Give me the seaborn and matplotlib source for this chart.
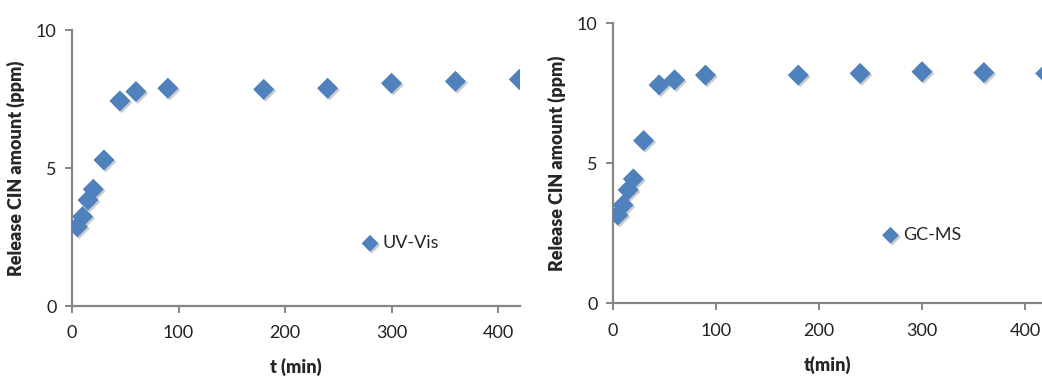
import numpy as np
import pandas as pd
import matplotlib.pyplot as plt
import matplotlib.patheffects as pe
import seaborn as sns

# ---- data ----
t_min = [5, 10, 15, 20, 30, 45, 60, 90, 180, 240, 300, 360, 420]
uv_vis = [2.87, 3.24, 3.84, 4.23, 5.29, 7.43, 7.77, 7.89, 7.85, 7.89, 8.07, 8.14, 8.21]
gc_ms = [3.15, 3.51, 4.05, 4.44, 5.81, 7.80, 7.98, 8.15, 8.15, 8.21, 8.27, 8.24, 8.21]

df_uv = pd.DataFrame({'t': t_min, 'ppm': uv_vis})
df_gc = pd.DataFrame({'t': t_min, 'ppm': gc_ms})

sns.set_style('white')
plt.rcParams['font.family'] = ['Lato', 'DejaVu Sans']

blue = '#4F81BD'
grey = '#868686'

fig = plt.figure(figsize=(10.42, 3.77), dpi=100, facecolor='white')
ax1 = fig.add_axes([0.0691, 0.1883, 0.4299, 0.7321])
ax2 = fig.add_axes([0.588, 0.1955, 0.412, 0.7427])

panels = [
    (ax1, df_uv, 'UV-Vis', 't (min)', 420.6, (0.625, 0.228)),
    (ax2, df_gc, 'GC-MS', 't(min)', 416.4, (0.605, 0.244)),
]

for ax, df, name, xlab, xmax, leg_pos in panels:
    sns.scatterplot(data=df, x='t', y='ppm', marker='D', s=115, color=blue,
                    edgecolor='none', label=name, ax=ax, clip_on=True, zorder=3)
    ax.collections[0].set_path_effects([
        pe.SimplePatchShadow(offset=(1.3, -1.3), shadow_rgbFace='#9a9a9a', alpha=0.5),
        pe.Normal()])

    ax.set_xlim(0, xmax)
    ax.set_ylim(0, 10)
    ax.set_xticks([0, 100, 200, 300, 400])
    ax.set_yticks([0, 5, 10])

    for side in ['top', 'right']:
        ax.spines[side].set_visible(False)
    for side in ['left', 'bottom']:
        ax.spines[side].set_color(grey)
        ax.spines[side].set_linewidth(1.6)
    ax.tick_params(axis='both', which='major', direction='out', length=5, width=1.4,
                   color=grey, labelsize=13, labelcolor='#222222', pad=6,
                   left=True, bottom=True)
    ax.tick_params(axis='x', pad=9)

    ax.set_xlabel(xlab, fontsize=13, fontweight='heavy', labelpad=12)
    ax.set_ylabel('Release CIN amount (ppm)', fontsize=13, fontweight='heavy', labelpad=8)

    leg = ax.legend(loc='center left', bbox_to_anchor=leg_pos, frameon=False,
                    fontsize=13, handletextpad=0.1, markerscale=0.8,
                    borderaxespad=0, handlelength=1.2)

fig.savefig('out.png', dpi=100, facecolor='white')
